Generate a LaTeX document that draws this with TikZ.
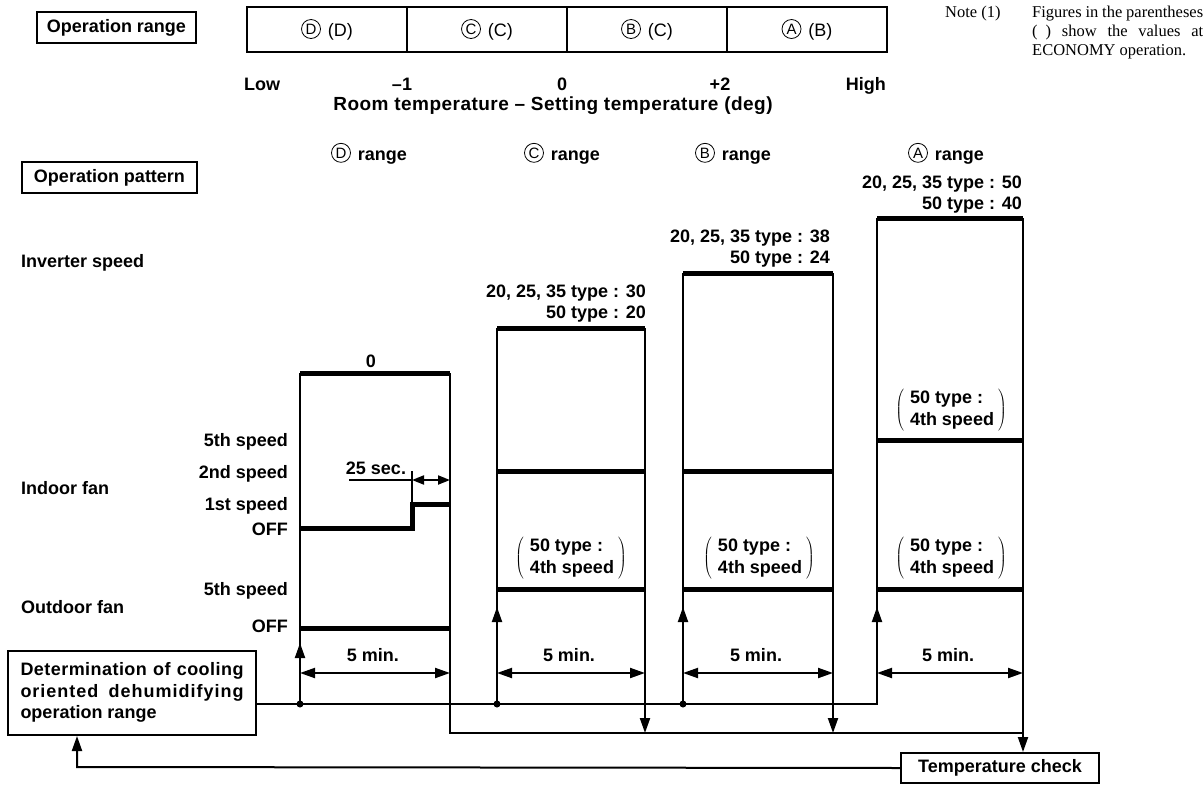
\documentclass[tikz,border=0pt]{standalone}
\usepackage{fontspec}
\setmainfont{Liberation Sans}
\newfontfamily\notefont{Liberation Serif}
\usetikzlibrary{arrows.meta}
\newcommand{\circl}[1]{\tikz[baseline={([yshift=-2pt]cc.base)}]\node[circle, draw, line width=0.8pt, minimum size=19pt, inner sep=0pt, font=\fontsize{15}{15}\selectfont\mdseries] (cc) {#1};\hspace{2pt}}
\newcommand{\pnote}{$\left(\mbox{\hspace{6pt}\begin{tabular}{@{}l@{}}50 type :\\4th speed\end{tabular}\hspace{4pt}}\right)$}
\begin{document}
\begin{tikzpicture}[x=1pt,y=-1pt,
  font=\fontsize{18}{21.5}\selectfont\bfseries,
  ln/.style={line width=2pt},
  tk/.style={line width=5pt},
  frame/.style={draw, line width=1.6pt, inner sep=0pt},
  cell/.style={draw, line width=1.6pt, inner sep=0pt, minimum width=160pt, minimum height=45pt, font=\fontsize{18}{21.5}\selectfont\mdseries},
  lab/.style={inner sep=0pt},
  hd/.style={-{Triangle[length=15pt,width=10pt]}},
  dhd/.style={{Triangle[length=15pt,width=10pt]}-{Triangle[length=15pt,width=10pt]}},
  shd/.style={{Triangle[length=12pt,width=9pt]}-{Triangle[length=12pt,width=9pt]}},
  nt/.style={inner sep=0pt, font={\notefont\mdseries\fontsize{16.5}{19}\selectfont}},
]
\useasboundingbox (0,0) rectangle (1204,784);

% ---------- operation range ----------
\node[frame, minimum width=159pt, minimum height=31pt] (opr) at (116.5,27.5) {Operation range};
\node[cell] (rD) at (327,29.5) {\circl{D} (D)};
\node[cell] (rC) at (487,29.5) {\circl{C} (C)};
\node[cell] (rB) at (647,29.5) {\circl{B} (C)};
\node[cell] (rA) at (807,29.5) {\circl{A} (B)};

\node[lab, anchor=base west] (low) at (244,90) {Low};
\node[lab, anchor=base] (m1) at (402,90) {--1};
\node[lab, anchor=base] (z0) at (562,90) {0};
\node[lab, anchor=base] (p2) at (720,90) {+2};
\node[lab, anchor=base east] (high) at (886,90) {High};
\node[lab, anchor=base, font=\fontsize{19}{21.5}\selectfont\bfseries\addfontfeatures{LetterSpace=2.5}] (axis) at (553,110) {Room temperature -- Setting temperature (deg)};

\node[nt, anchor=base west] (note) at (945,18) {Note (1)};
\node[nt, anchor=base west] (notetxt) at (1032,18) {\begin{tabular}[t]{@{}l@{}}\makebox[171pt][s]{Figures in the parentheses}\\\makebox[171pt][s]{(\hspace{8pt}) show the values at}\\ECONOMY operation.\end{tabular}};

% ---------- operation pattern ----------
\node[frame, minimum width=175pt, minimum height=31pt] (opp) at (109.5,177.5) {Operation pattern};
\node[lab, anchor=base] (lD) at (369,160) {\circl{D} range};
\node[lab, anchor=base] (lC) at (562,160) {\circl{C} range};
\node[lab, anchor=base] (lB) at (733,160) {\circl{B} range};
\node[lab, anchor=base] (lA) at (946,160) {\circl{A} range};

\node[lab, anchor=base west] (inv) at (21,267) {Inverter speed};
\node[lab, anchor=base west] (ifan) at (21,494) {Indoor fan};
\node[lab, anchor=base west] (ofan) at (21,613) {Outdoor fan};
\node[lab, anchor=base east] (i5) at (288,446) {5th speed};
\node[lab, anchor=base east] (i2) at (288,478) {2nd speed};
\node[lab, anchor=base east] (i1) at (288,510) {1st speed};
\node[lab, anchor=base east] (ioff) at (288,535) {OFF};
\node[lab, anchor=base east] (o5) at (288,595) {5th speed};
\node[lab, anchor=base east] (ooff) at (288,632) {OFF};

% values above columns
\node[lab, anchor=base] (vD) at (371,367) {0};
\node[lab, anchor=base east] (vC1) at (646,297) {20, 25, 35 type : 30};
\node[lab, anchor=base east] (vC2) at (646,318) {50 type : 20};
\node[lab, anchor=base east] (vB1) at (830,242) {20, 25, 35 type : 38};
\node[lab, anchor=base east] (vB2) at (830,263) {50 type : 24};
\node[lab, anchor=base east] (vA1) at (1022,188) {20, 25, 35 type : 50};
\node[lab, anchor=base east] (vA2) at (1022,209) {50 type : 40};

% ---------- columns ----------
\draw[tk] (300,373) -- (450,373);
\draw[tk] (497,328) -- (645,328);
\draw[tk] (683,273) -- (833,273);
\draw[tk] (877,218) -- (1023,218);
\draw[tk, line join=miter] (300,528) -- (412,528) -- (412,504) -- (450,504);
\draw[tk] (497,471) -- (645,471);
\draw[tk] (683,471) -- (833,471);
\draw[tk] (877,440) -- (1023,440);
\draw[tk] (300,628) -- (450,628);
\draw[tk] (497,589) -- (645,589);
\draw[tk] (683,589) -- (833,589);
\draw[tk] (877,589) -- (1023,589);
% 25 sec
\node[lab, anchor=base] (s25) at (376,474) {25 sec.};
\draw[ln] (349,480) -- (412,480);
\draw[ln] (412,471) -- (412,504);
\draw[ln, shd] (412,480) -- (450,480);
% parentheticals
\node[lab] (pC) at (571,558) {\pnote};
\node[lab] (pB) at (759,558) {\pnote};
\node[lab] (pA) at (951,558) {\pnote};
\node[lab] (pA2) at (951,410) {\pnote};

% boxes of the flow
\node[frame, line width=2pt, minimum width=248pt, minimum height=84pt] (det) at (132,693)
  {\begin{tabular}{@{}l@{}}\makebox[223pt][s]{\addfontfeatures{LetterSpace=2.5}Determination of cooling}\\\makebox[223pt][s]{\addfontfeatures{LetterSpace=5.5}oriented dehumidifying}\\operation range\end{tabular}};
\node[frame, line width=2pt, minimum width=198pt, minimum height=30pt] (tc) at (1000,768) {Temperature check};

\coordinate (dD) at (300,704);
\coordinate (dC) at (497,704);
\coordinate (dB) at (683,704);
\coordinate (cA) at (877,704);
\coordinate (aR) at (1023,218);
\coordinate (fb) at (77,767);

% left edges / flow upward
\draw[ln] (det.east |- dD) -- (cA) -- (877,218);
\draw[ln] (dD) -- (300,373);
\draw[ln] (dC) -- (497,328);
\draw[ln] (dB) -- (683,273);
\fill (dD) circle (3.5pt);
\fill (dC) circle (3.5pt);
\fill (dB) circle (3.5pt);
\draw[ln, hd] (300,665) -- (300,643);
\draw[ln, hd] (497,630) -- (497,607);
\draw[ln, hd] (683,630) -- (683,607);
\draw[ln, hd] (877,630) -- (877,607);

% right edges / flow downward
\draw[ln] (450,373) -- (450,733) -- (1023,733);
\draw[ln, hd] (645,328) -- (645,733);
\draw[ln, hd] (833,273) -- (833,733);
\draw[ln, hd] (aR) -- (aR |- tc.north);

% feedback
\draw[ln, hd] (tc.west) -- (fb) -- (fb |- det.south);

% 5 min.
\draw[ln, dhd] (300,673) -- (450,673);
\draw[ln, dhd] (497,673) -- (645,673);
\draw[ln, dhd] (683,673) -- (833,673);
\draw[ln, dhd] (877,673) -- (1023,673);
\node[lab, anchor=base] (fD) at (373,661) {5 min.};
\node[lab, anchor=base] (fC) at (569,661) {5 min.};
\node[lab, anchor=base] (fB) at (756,661) {5 min.};
\node[lab, anchor=base] (fA) at (948,661) {5 min.};
\end{tikzpicture}
\end{document}
